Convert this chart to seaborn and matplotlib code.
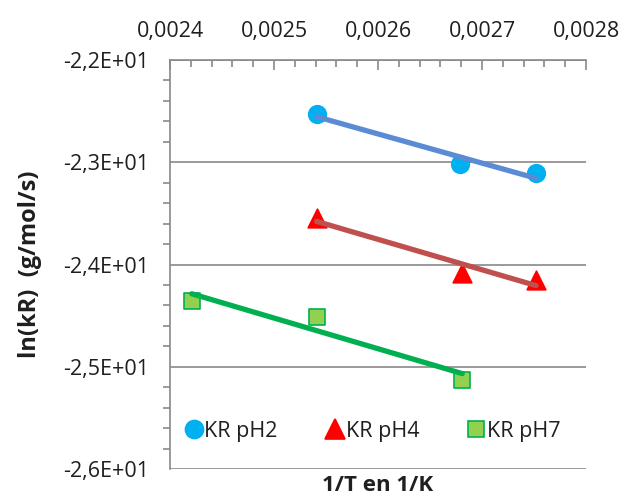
import numpy as np
import pandas as pd
import matplotlib
matplotlib.use("Agg")
import matplotlib.pyplot as plt
from matplotlib.ticker import MultipleLocator, FuncFormatter
from matplotlib.lines import Line2D
import seaborn as sns

# values (1/T in 1/K, ln(kR))
inv_T_ph2 = [0.002541, 0.002679, 0.002752]
lnk_ph2 = [-22.53, -23.02, -23.11]

inv_T_ph4 = [0.002541, 0.002681, 0.002752]
lnk_ph4 = [-23.55, -24.08, -24.15]

inv_T_ph7 = [0.002421, 0.002541, 0.002681]
lnk_ph7 = [-24.36, -24.51, -25.13]

series_names = ["KR pH2", "KR pH4", "KR pH7"]

sns.set_style("white")
plt.rcParams["font.family"] = ["Open Sans", "DejaVu Sans"]

grey = "#898989"
txt = "#1f1f1f"
fs = 15.5

fig = plt.figure(figsize=(6.24, 5.01), dpi=100)
ax = fig.add_axes([170 / 624, 1 - 469 / 501, 416 / 624, 409 / 501])

styles = [
    dict(x=inv_T_ph2, y=lnk_ph2, marker="o", face="#00B0F0", edge="#00B0F0", line="#5B8BD5", s=160, ms=13),
    dict(x=inv_T_ph4, y=lnk_ph4, marker="^", face="#FF0000", edge="#FF0000", line="#C0504D", s=180, ms=14),
    dict(x=inv_T_ph7, y=lnk_ph7, marker="s", face="#92D050", edge="#00B050", line="#00B050", s=130, ms=12),
]

handles = []
for name, st in zip(series_names, styles):
    df = pd.DataFrame({"x": st["x"], "y": st["y"]})
    sns.scatterplot(data=df, x="x", y="y", marker=st["marker"], s=st["s"],
                    color=st["face"], edgecolor=st["edge"], linewidth=1.2,
                    ax=ax, zorder=3, legend=False)
    # linear trendline for each series
    sns.regplot(data=df, x="x", y="y", ci=None, scatter=False, ax=ax,
                line_kws=dict(color=st["line"], lw=3.8, solid_capstyle="round", zorder=4))
    handles.append(Line2D([], [], ls="none", marker=st["marker"], markersize=st["ms"],
                          markerfacecolor=st["face"], markeredgecolor=st["edge"],
                          markeredgewidth=1.2, label=name))

ax.set_xlim(0.0024, 0.0028)
ax.set_ylim(-26, -22)

ax.xaxis.tick_top()
ax.xaxis.set_major_locator(MultipleLocator(0.0001))
ax.xaxis.set_minor_locator(MultipleLocator(0.00002))
ax.yaxis.set_major_locator(MultipleLocator(1))
ax.yaxis.set_minor_locator(MultipleLocator(0.2))
ax.xaxis.set_major_formatter(FuncFormatter(lambda v, p: f"{v:.4f}".replace(".", ",")))
ax.yaxis.set_major_formatter(FuncFormatter(lambda v, p: f"{v:.1E}".replace(".", ",")))

ax.tick_params(axis="x", which="major", direction="in", length=7, width=1.2, color=grey,
               labelsize=fs, labelcolor=txt, pad=13)
ax.tick_params(axis="x", which="minor", direction="in", length=5, width=1.2, color=grey, top=True)
ax.tick_params(axis="y", which="major", direction="out", length=9, width=1.2, color=grey,
               labelsize=fs, labelcolor=txt, pad=6)
ax.tick_params(axis="y", which="minor", direction="out", length=5, width=1.2, color=grey, left=True)

ax.yaxis.grid(True, which="major", color=grey, lw=1.2)
ax.xaxis.grid(False)

for side in ["bottom", "right"]:
    ax.spines[side].set_visible(False)
for side in ["top", "left"]:
    ax.spines[side].set_color(grey)
    ax.spines[side].set_linewidth(1.2)

ax.set_xlabel("1/T en 1/K", fontsize=16, fontweight="bold", color=txt, labelpad=4)
ax.xaxis.set_label_position("bottom")
ax.set_ylabel("ln(kR)  (g/mol/s)", fontsize=17, fontweight="bold", color=txt, labelpad=15)

ax.legend(handles=handles, loc="center", bbox_to_anchor=(0.485, 0.092), ncol=3,
          frameon=False, fontsize=fs, handletextpad=0.0, columnspacing=2.15,
          handlelength=1.0, labelcolor=txt)

fig.savefig("out.png", dpi=100)
